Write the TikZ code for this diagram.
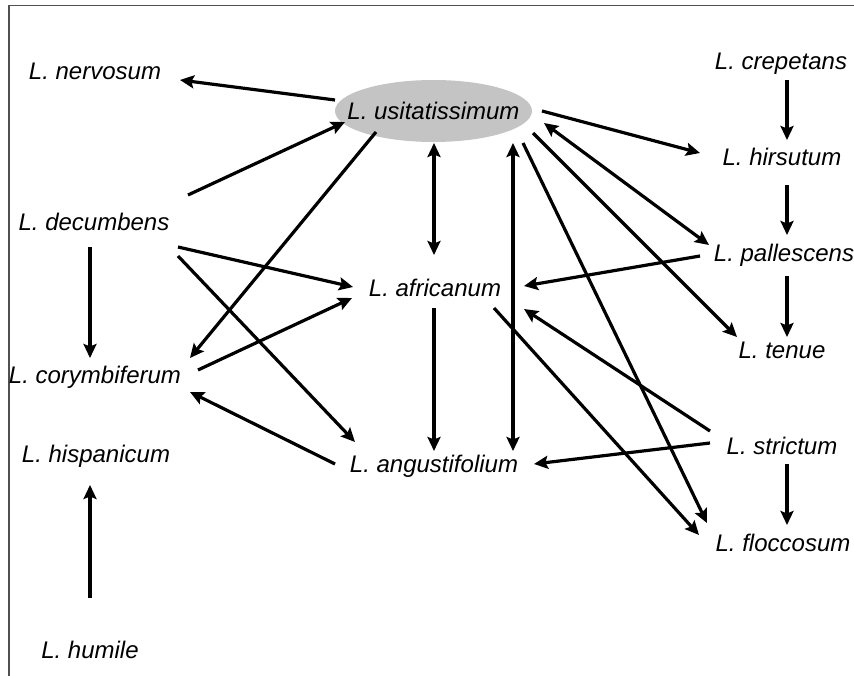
\documentclass[tikz,border=0pt]{standalone}
\usepackage{fontspec}
\setmainfont{Liberation Sans}
\usetikzlibrary{arrows.meta,shapes.geometric}
\tikzset{
  x=1pt,y=-1pt,
  sp/.style={font=\fontsize{24}{28}\selectfont\itshape, inner sep=0pt, text height=17pt, text depth=0pt, text=black},
  conn/.style={line width=3.2pt, -{Stealth[length=14pt,width=13pt,inset=2.5pt]}},
  dconn/.style={line width=3.2pt, {Stealth[length=14pt,width=13pt,inset=2.5pt]}-{Stealth[length=14pt,width=13pt,inset=2.5pt]}},
  frame/.style={draw={rgb,255:red,80;green,80;blue,80}, line width=1.6pt}
}
\begin{document}
\begin{tikzpicture}
\useasboundingbox (0,0) rectangle (854,676);
\coordinate (fa) at (8.7,676);
\coordinate (fb) at (8.7,5.7);
\coordinate (fc) at (854,5.7);
\draw[frame] (fa) -- (fb) -- (fc);

\node[ellipse, fill={rgb,255:red,196;green,196;blue,196}, minimum width=197pt, minimum height=62pt, inner sep=0pt] (usitE) at (433.5,111) {};
\node[sp] (usit) at (433.5,111) {L. usitatissimum};
\node[sp] (nerv) at (95,71) {L. nervosum};
\node[sp] (crep) at (781,61) {L. crepetans};
\node[sp] (hirs) at (782,157) {L. hirsutum};
\node[sp] (pall) at (784,253) {L. pallescens};
\node[sp] (tenue) at (782,350) {L. tenue};
\node[sp] (strict) at (782,446) {L. strictum};
\node[sp] (flocc) at (783,543) {L. floccosum};
\node[sp] (decu) at (94,222) {L. decumbens};
\node[sp] (afri) at (435,288) {L. africanum};
\node[sp] (cory) at (95,375) {L. corymbiferum};
\node[sp] (hisp) at (96,454) {L. hispanicum};
\node[sp] (humile) at (90,650) {L. humile};
\node[sp] (angu) at (434,464) {L. angustifolium};

% left side
\draw[conn] ([shift={(-98.5,-11)}]usitE.center) -- ([shift={(85,9)}]nerv.center);
\draw[conn] ([shift={(94,-27)}]decu.center) -- ([shift={(-88.5,11)}]usitE.center);
\draw[conn] ([shift={(-57.5,21)}]usitE.center) -- ([shift={(95,-17)}]cory.center);
\draw[conn] ([shift={(84,25)}]decu.center) -- ([shift={(-82,-1)}]afri.center);
\draw[conn] ([shift={(84,34)}]decu.center) -- ([shift={(-79,-22)}]angu.center);
\draw[conn] ([shift={(103,-5)}]cory.center) -- ([shift={(-83,10)}]afri.center);
\draw[conn] ([shift={(-99,0)}]angu.center) -- ([shift={(95,17)}]cory.center);
\draw[conn] ([shift={(-4,25)}]decu.center) -- ([shift={(-5,-17)}]cory.center);
\draw[conn] ([shift={(0,-52)}]humile.center) -- ([shift={(-6,31)}]hisp.center);

% centre
\draw[dconn] ([shift={(0.5,32)}]usitE.center) -- ([shift={(-1,-33)}]afri.center);
\draw[conn] ([shift={(-1,20)}]afri.center) -- ([shift={(0,-13)}]angu.center);
\draw[dconn] ([shift={(79.5,32)}]usitE.center) -- ([shift={(79,-13)}]angu.center);

% right side
\draw[conn] ([shift={(108.5,0)}]usitE.center) -- ([shift={(-82,-4)}]hirs.center);
\draw[dconn] ([shift={(110.5,12)}]usitE.center) -- ([shift={(-75,-8)}]pall.center);
\draw[conn] ([shift={(99.5,22)}]usitE.center) -- ([shift={(-45,-13)}]tenue.center);
\draw[conn] ([shift={(89.5,32)}]usitE.center) -- ([shift={(-76,-20)}]flocc.center);
\draw[conn] ([shift={(59,20)}]afri.center) -- ([shift={(-84,-8)}]flocc.center);
\draw[conn] ([shift={(-72,-15)}]strict.center) -- ([shift={(89,21)}]afri.center);
\draw[conn] ([shift={(-72,-3)}]strict.center) -- ([shift={(100,0)}]angu.center);
\draw[conn] ([shift={(-84,3)}]pall.center) -- ([shift={(89,-2)}]afri.center);
\draw[conn] ([shift={(6,19)}]crep.center) -- ([shift={(5,-17)}]hirs.center);
\draw[conn] ([shift={(5,28)}]hirs.center) -- ([shift={(3,-18)}]pall.center);
\draw[conn] ([shift={(3,23)}]pall.center) -- ([shift={(5,-13)}]tenue.center);
\draw[conn] ([shift={(5,18)}]strict.center) -- ([shift={(4,-18)}]flocc.center);
\end{tikzpicture}
\end{document}
